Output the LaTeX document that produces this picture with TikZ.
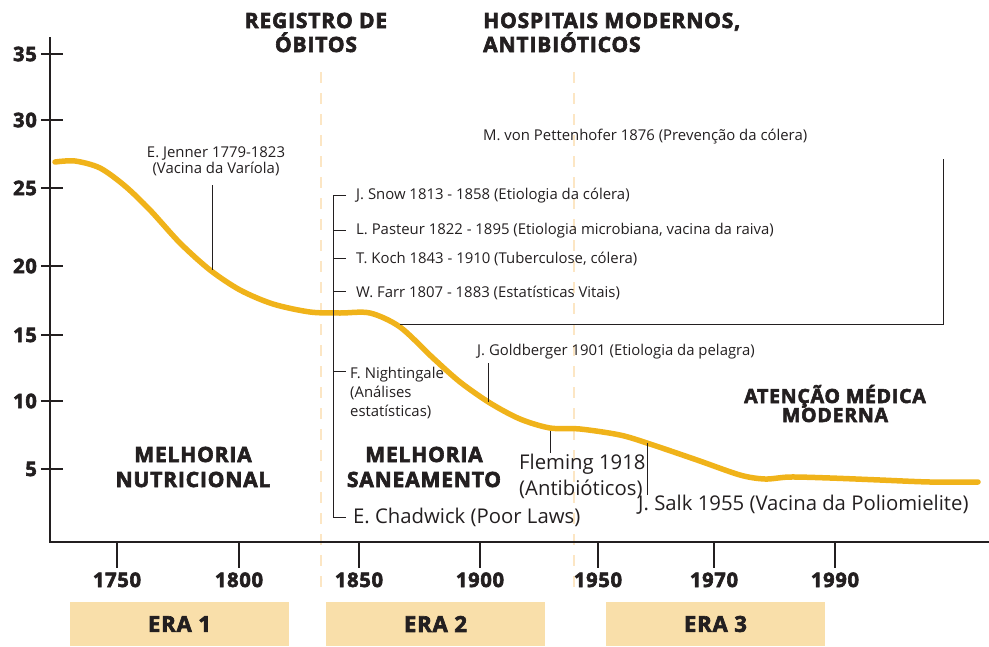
\documentclass[tikz,border=0pt]{standalone}
\usepackage{fontspec}
\setmainfont{Open Sans}
\newfontfamily\hf{Open Sans}[BoldFeatures={FakeBold=3}, LetterSpace=4]
\definecolor{ink}{HTML}{231F20}
\definecolor{curvec}{HTML}{F0B31A}
\definecolor{dashc}{HTML}{FCE6C4}
\definecolor{erac}{HTML}{F9DFAA}
\begin{document}
\begin{tikzpicture}[x=1pt,y=-1pt,
  axis/.style={line width=1.1pt, draw=ink},
  thin/.style={line width=0.9pt, draw=ink},
  curve/.style={line width=5.5pt, draw=curvec, line cap=round, line join=round},
  divider/.style={line width=2pt, draw=dashc, dash pattern=on 11pt off 10pt},
  lbl/.style={font=\fontsize{14.9}{17}\selectfont, text=ink, inner sep=0pt},
  big/.style={font=\fontsize{20.3}{22}\selectfont, text=ink, inner sep=0pt},
  head/.style={font=\hf\bfseries\fontsize{21}{24}\selectfont, text=ink, inner sep=0pt},
  headsm/.style={font=\hf\bfseries\fontsize{19.5}{20}\selectfont, text=ink, inner sep=0pt},
  num/.style={font=\hf\bfseries\fontsize{20}{22}\selectfont, text=ink, inner sep=0pt},
  erabox/.style={fill=erac, minimum width=219pt, minimum height=44pt, inner sep=0pt, font=\hf\bfseries\fontsize{22}{22}\selectfont, text=ink}
]
\useasboundingbox (0,0) rectangle (989,646);

% dividers
\coordinate (d1t) at (321,72); \coordinate (d1b) at (321,592);
\coordinate (d2t) at (574,72); \coordinate (d2b) at (574,592);
\draw[divider] (d1t) -- (d1b);
\draw[divider] (d2t) -- (d2b);

% axes
\coordinate (yt) at (50,37); \coordinate (o) at (50,542); \coordinate (xr) at (989,542);
\draw[axis] (yt) -- (o) -- (xr);
\foreach \v/\yy in {35/54,30/120,25/188,20/266,15/335,10/401,5/469}{
  \draw[axis] (41,\yy) -- (63,\yy);
  \node[num, anchor=east] (y\v) at (37,\yy) {\v};
}
\foreach \v/\xx in {1750/117,1800/239,1850/359,1900/480,1950/598,1970/714,1990/835}{
  \draw[axis] (\xx,542) -- (\xx,568);
  \node[num, anchor=base] (x\v) at (\xx,587) {\v};
}

% era boxes
\node[erabox] (era1) at (179.5,624) {ERA 1};
\node[erabox] (era2) at (435.5,624) {ERA 2};
\node[erabox] (era3) at (715.5,624) {ERA 3};

% headings
\node[head, anchor=base] (reg1) at (316,28) {REGISTRO DE};
\node[head, anchor=base] (reg2) at (316,52) {ÓBITOS};
\node[head, anchor=base west] (hos1) at (483,28) {HOSPITAIS MODERNOS,};
\node[head, anchor=base west] (hos2) at (483,52) {ANTIBIÓTICOS};
\node[head, anchor=base] (mn1) at (193,462) {MELHORIA};
\node[head, anchor=base] (mn2) at (193,487) {NUTRICIONAL};
\node[head, anchor=base] (ms1) at (424,462) {MELHORIA};
\node[head, anchor=base] (ms2) at (424,487) {SANEAMENTO};
\node[headsm, anchor=base] (am1) at (835,403) {ATENÇÃO MÉDICA};
\node[headsm, anchor=base] (am2) at (835,422) {MODERNA};

% curve
\draw[curve] plot[smooth, tension=0.5] coordinates {
 (55,162) (75,161) (100,168) (125,186) (150,210) (180,243) (210,270) (240,290)
 (273,304) (310,312) (340,313) (370,313) (400,327) (433,358) (460,382) (490,403)
 (520,419) (550,428) (580,429) (620,435) (650,444) (697,460) (740,475) (765,479)
 (790,477) (830,478) (880,480) (930,482) (978,482)};

% Jenner
\node[lbl, anchor=base] (jen1) at (216,157) {E. Jenner 1779-1823};
\node[lbl, anchor=base] (jen2) at (216,173) {(Vacina da Varíola)};
\coordinate (jt) at (212,185); \coordinate (jb) at (212,270);
\draw[thin] (jt) -- (jb);

% Pettenhofer
\node[lbl, anchor=base west] (pet) at (483,140) {M. von Pettenhofer 1876 (Prevenção da cólera)};
\coordinate (pa) at (943,159); \coordinate (pb) at (943,324); \coordinate (pc) at (400,324);
\draw[thin] (pa) -- (pb) -- (pc);

% bracket
\coordinate (bt) at (333,195); \coordinate (bb) at (333,517);
\draw[thin] (346,195) -- (bt) -- (bb) -- (346,517);
\foreach \yy in {230,258,291,371}{ \draw[thin] (333,\yy) -- (346,\yy); }
\node[lbl, anchor=base west] (snow) at (356,199) {J. Snow 1813 - 1858 (Etiologia da cólera)};
\node[lbl, anchor=base west] (past) at (356,234) {L. Pasteur 1822 - 1895 (Etiologia microbiana, vacina da raiva)};
\node[lbl, anchor=base west] (koch) at (356,263) {T. Koch 1843 - 1910 (Tuberculose, cólera)};
\node[lbl, anchor=base west] (farr) at (356,297) {W. Farr 1807 - 1883 (Estatísticas Vitais)};
\node[lbl, anchor=base west] (nig1) at (350,378) {F. Nightingale};
\node[lbl, anchor=base west] (nig2) at (350,397) {(Análises};
\node[lbl, anchor=base west] (nig3) at (350,416) {estatísticas)};
\node[big, anchor=base west] (chad) at (353,523) {E. Chadwick (Poor Laws)};

% Goldberger
\node[lbl, anchor=base west] (gold) at (477,355) {J. Goldberger 1901 (Etiologia da pelagra)};
\coordinate (gt) at (488,363); \coordinate (gb) at (488,402);
\draw[thin] (gt) -- (gb);

% Fleming
\coordinate (ft) at (550,431); \coordinate (fb) at (550,453);
\draw[thin] (ft) -- (fb);
\node[big, anchor=base west] (fle1) at (519,469) {Fleming 1918};
\node[big, anchor=base west] (fle2) at (519,495) {(Antibióticos)};

% Salk
\coordinate (st) at (647,443); \coordinate (sb) at (647,495);
\draw[thin] (st) -- (sb);
\node[big, anchor=base west] (salk) at (638,510) {J. Salk 1955 (Vacina da Poliomielite)};
\end{tikzpicture}
\end{document}
